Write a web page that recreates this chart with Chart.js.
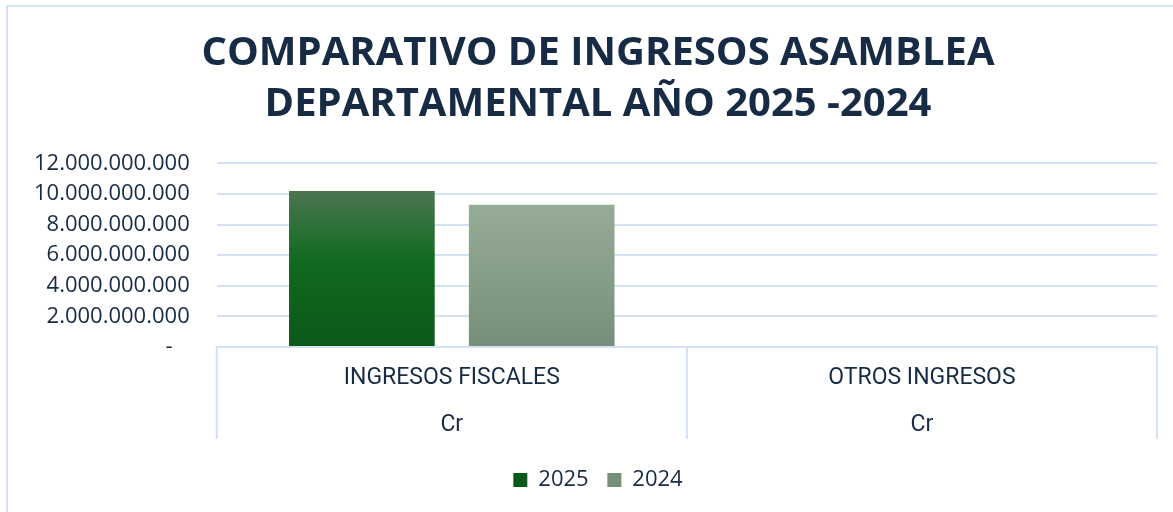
<!DOCTYPE html>
<html>
<head>
<meta charset="utf-8">
<script src="https://cdn.jsdelivr.net/npm/chart.js@4"></script>
<style>
    body { margin: 0; background: #fff; overflow: hidden; }
    #frame { position: absolute; left: 6px; top: 5px; width: 1300px; height: 600px; border: 2px solid #d6e3f4; }
    #chartContainer { position: absolute; left: 0; top: 0; width: 1200px; height: 512px; }
</style>
</head>
<body>
<div id="frame"></div>
<div id="chartContainer"><canvas id="ingresosChart"></canvas></div>
<script>
const categories = ['INGRESOS FISCALES', 'OTROS INGRESOS'];
const subLabel = 'Cr';
const values2025 = [10200000000, 0];
const values2024 = [9290000000, 0];
const yTicks = [0, 2000000000, 4000000000, 6000000000, 8000000000, 10000000000, 12000000000];

const navy = '#182b45';
const gridBlue = '#d2e1f4';

/**
 * vertical gradient over the bar itself, like the Excel fill
 */
const barFill = (stops, solid) => (context) => {
    const chart = context.chart;
    if (context.type !== 'data' || !chart.chartArea) {
        return solid;
    }
    const y = chart.scales.y;
    const top = y.getPixelForValue(context.parsed.y);
    const bottom = y.getPixelForValue(0);
    if (bottom - top < 1) {
        return solid;
    }
    const g = chart.ctx.createLinearGradient(0, top, 0, bottom);
    stops.forEach((s) => g.addColorStop(s[0], s[1]));
    return g;
};

const formatMiles = (v) => {
    if (v === 0) {
        return '-   ';
    }
    return String(v).replace(/\B(?=(\d{3})+(?!\d))/g, '.');
};

// category separators under the axis (Excel multi-level axis box)
const categoryBoxes = {
    id: 'categoryBoxes',
    afterDraw: (chart) => {
        const xs = chart.scales.x;
        const n = xs.ticks.length;
        const c = chart.ctx;
        c.save();
        c.strokeStyle = gridBlue;
        c.lineWidth = 2;
        for (let i = 0; i <= n; i++) {
            let px;
            if (i === 0) px = xs.left;
            else if (i === n) px = xs.right;
            else px = (xs.getPixelForTick(i - 1) + xs.getPixelForTick(i)) / 2;
            c.beginPath();
            c.moveTo(px, xs.top);
            c.lineTo(px, xs.top + 92);
            c.stroke();
        }
        c.restore();
    },
};

const ctx = document.getElementById('ingresosChart');
const myChart = new Chart(ctx, {
    type: 'bar',
    data: {
        labels: categories.map((c) => [c, subLabel]),
        datasets: [
            {
                label: '2025',
                data: values2025,
                backgroundColor: barFill([[0, '#4b7652'], [0.45, '#116a1f'], [1, '#0c5819']], '#0f5e1c'),
                borderWidth: 0,
                categoryPercentage: 0.765,
                barPercentage: 0.81,
            },
            {
                label: '2024',
                data: values2024,
                backgroundColor: barFill([[0, '#97ac97'], [1, '#768f79']], '#90a790'),
                borderWidth: 0,
                categoryPercentage: 0.765,
                barPercentage: 0.81,
            },
        ],
    },
    plugins: [categoryBoxes],
    options: {
        responsive: true,
        maintainAspectRatio: false,
        animation: false,
        layout: {
            padding: { top: 18, left: 7, right: 11, bottom: 11 },
        },
        plugins: {
            title: {
                display: true,
                text: ['COMPARATIVO DE INGRESOS ASAMBLEA', 'DEPARTAMENTAL AÑO 2025 -2024'],
                color: navy,
                font: { family: 'Open Sans', size: 40, weight: 'bold', lineHeight: 1.28 },
                padding: { top: 10, bottom: 33 },
            },
            legend: {
                position: 'bottom',
                labels: {
                    color: navy,
                    font: { family: 'Open Sans', size: 22 },
                    boxWidth: 14,
                    boxHeight: 14,
                    padding: 13,
                    generateLabels: (chart) => {
                        const items = Chart.defaults.plugins.legend.labels.generateLabels(chart);
                        items.forEach((it, i) => {
                            if (i < items.length - 1) it.text += ' ';
                        });
                        return items;
                    },
                },
            },
            tooltip: { enabled: false },
        },
        scales: {
            y: {
                min: 0,
                max: 12000000000,
                afterBuildTicks: (axis) => {
                    axis.ticks = yTicks.map((v) => ({ value: v }));
                },
                grid: { color: gridBlue, lineWidth: 2, drawTicks: false },
                border: { display: false },
                ticks: {
                    color: navy,
                    font: { family: 'Open Sans', size: 22 },
                    padding: 27,
                    callback: formatMiles,
                },
            },
            // empty right axis, only keeps the plot off the frame edge
            yPad: {
                position: 'right',
                grid: { display: false },
                border: { display: false },
                ticks: { display: false },
                afterFit: (axis) => {
                    axis.width = 32;
                },
            },
            x: {
                grid: { display: false, drawTicks: false },
                border: { display: true, color: gridBlue, width: 2 },
                ticks: {
                    color: navy,
                    font: { family: 'Roboto', size: 23, lineHeight: 2.043 },
                    padding: 7.5,
                    maxRotation: 0,
                },
            },
        },
    },
});
</script>
</body>
</html>
